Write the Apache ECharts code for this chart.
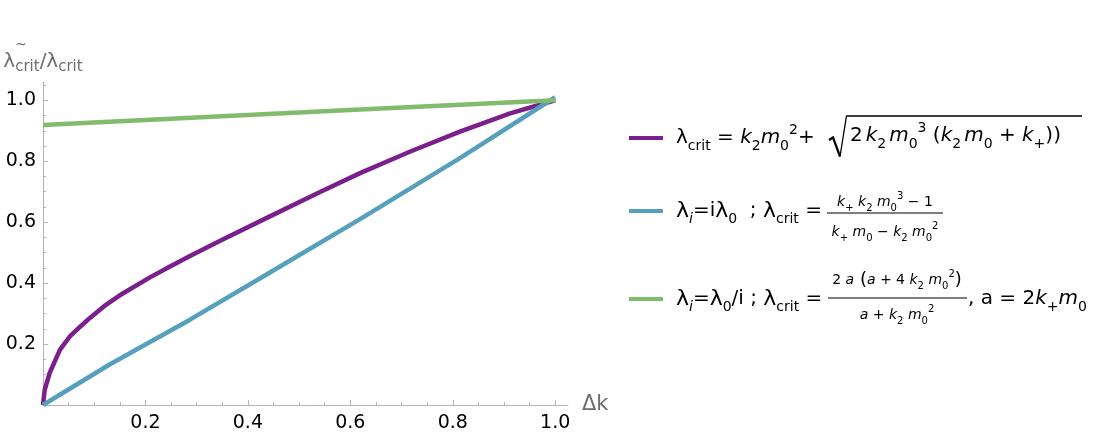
<!DOCTYPE html>
<html>
<head>
<meta charset="utf-8">
<script src="https://cdn.jsdelivr.net/npm/echarts@6/dist/echarts.min.js"></script>
<style>
  html, body { margin: 0; padding: 0; background: #fff; }
  #chart { width: 1101px; height: 444px; }
</style>
</head>
<body>
<div id="chart"></div>
<script>
// values
const critX = [0, 0.0033, 0.013, 0.033, 0.052, 0.072, 0.091, 0.12, 0.15, 0.208, 0.247, 0.287, 0.345, 0.443, 0.54, 0.619, 0.716, 0.814, 0.912, 1.0]
const critY = [0, 0.05, 0.105, 0.181, 0.224, 0.256, 0.285, 0.325, 0.36, 0.418, 0.454, 0.489, 0.538, 0.619, 0.698, 0.761, 0.831, 0.897, 0.957, 1.0]
const linX = [0, 0.13, 0.287, 0.443, 0.619, 0.814, 1.0]
const linY = [0, 0.133, 0.28, 0.435, 0.61, 0.81, 1.01]
const invX = [0, 0.619, 1.0]
const invY = [0.919, 0.97, 1.0]
const majorTicks = [0, 0.2, 0.4, 0.6, 0.8, 1.0]
const tickLabels = [0.2, 0.4, 0.6, 0.8, 1.0]
const minorTicks = [0.05, 0.1, 0.15, 0.25, 0.3, 0.35, 0.45, 0.5, 0.55, 0.65, 0.7, 0.75, 0.85, 0.9, 0.95, 1.05]

const FONT = '"DejaVu Sans", "Liberation Sans", sans-serif'
const AXIS_GREY = '#b3b3b3'
const NAME_GREY = '#6e6e6e'
const colors = ['#7a1f8b', '#56a0be', '#81bb6c']

const pairs = (xs, ys) => xs.map((x, i) => [x, ys[i]])

// rich styles for the formulas
const base = { fontFamily: FONT, color: '#000' }
const rich = {
  n: { ...base, fontSize: 20, lineHeight: 30 },
  it: { ...base, fontSize: 20, lineHeight: 30, fontStyle: 'italic' },
  L: { ...base, fontSize: 22, lineHeight: 30 },
  sub: { ...base, fontSize: 14, lineHeight: 20, verticalAlign: 'bottom' },
  isub: { ...base, fontSize: 14, lineHeight: 20, verticalAlign: 'bottom', fontStyle: 'italic' },
  sup: { ...base, fontSize: 14, lineHeight: 16, verticalAlign: 'top' },
  ts: { ...base, fontSize: 20, lineHeight: 30, width: 3 },
  sp: { ...base, fontSize: 20, lineHeight: 30, width: 8 },
  f: { ...base, fontSize: 14, lineHeight: 22 },
  fi: { ...base, fontSize: 14, lineHeight: 22, fontStyle: 'italic' },
  fp: { ...base, fontSize: 18, lineHeight: 22 },
  fsub: { ...base, fontSize: 10, lineHeight: 15, verticalAlign: 'bottom' },
  fsup: { ...base, fontSize: 10, lineHeight: 10, verticalAlign: 'top' }
}

const labels = {
  crit: '{sp| }{n|λ}{sub|crit}{n| = }{it|k}{sub|2}{it|m}{sub|0}{sup|2}{n|+}',
  lin: '{sp| }{L|λ}{isub|i}{n|=i}{L|λ}{sub|0}{n|  ; }{L|λ}{sub|crit}{n| =}',
  inv: '{sp| }{L|λ}{isub|i}{n|=}{L|λ}{sub|0}{n|/i ; }{L|λ}{sub|crit}{n| =}'
}

const legendAt = (name, top) => ({
  data: [name],
  left: 629,
  top: top,
  padding: 0,
  icon: 'rect',
  itemWidth: 34,
  itemHeight: 4,
  selectedMode: false,
  formatter: n => labels[n],
  textStyle: { rich: rich }
})

const richText = (text, x, y, align) => ({
  type: 'text',
  style: { text: text, rich: rich, x: x, y: y, align: align || 'center', verticalAlign: 'middle' }
})
const hLine = (x1, x2, y, w) => ({
  type: 'line',
  shape: { x1: x1, y1: y, x2: x2, y2: y },
  style: { stroke: '#000', lineWidth: w || 1.2 }
})

const chart = echarts.init(document.getElementById('chart'))
chart.setOption({
  animation: false,
  backgroundColor: '#fff',
  grid: { left: 43, right: 533, top: 82, bottom: 39, outerBoundsMode: 'none' },
  legend: [legendAt('crit', 123), legendAt('lin', 200), legendAt('inv', 288)],
  xAxis: [{
    type: 'value', min: 0, max: 1.025, position: 'bottom',
    name: 'Δk', nameLocation: 'end', nameGap: 14,
    nameTextStyle: { fontFamily: FONT, fontSize: 21, color: NAME_GREY, verticalAlign: 'middle' },
    axisLine: { lineStyle: { color: AXIS_GREY, width: 1 } },
    axisTick: { inside: true, length: 5, customValues: majorTicks, lineStyle: { color: AXIS_GREY } },
    axisLabel: { customValues: tickLabels, formatter: v => v.toFixed(1), fontFamily: FONT, fontSize: 19, color: '#000', margin: 9 },
    splitLine: { show: false }
  }, {
    type: 'value', min: 0, max: 1.025, position: 'bottom',
    axisLine: { show: false },
    axisTick: { inside: true, length: 3, customValues: minorTicks, lineStyle: { color: AXIS_GREY } },
    axisLabel: { show: false },
    splitLine: { show: false }
  }],
  yAxis: [{
    type: 'value', min: 0, max: 1.06, position: 'left',
    name: '{n|λ}{s|crit}{n|/λ}{s|crit}', nameLocation: 'end', nameGap: 7,
    nameTextStyle: {
      rich: {
        n: { fontFamily: FONT, fontSize: 20, color: NAME_GREY, lineHeight: 26 },
        s: { fontFamily: FONT, fontSize: 15, color: NAME_GREY, lineHeight: 18, verticalAlign: 'bottom' }
      }
    },
    axisLine: { lineStyle: { color: AXIS_GREY, width: 1 } },
    axisTick: { inside: true, length: 5, customValues: majorTicks, lineStyle: { color: AXIS_GREY } },
    axisLabel: { customValues: tickLabels, formatter: v => v.toFixed(1), fontFamily: FONT, fontSize: 19, color: '#000', margin: 7 },
    splitLine: { show: false }
  }, {
    type: 'value', min: 0, max: 1.06, position: 'left',
    axisLine: { show: false },
    axisTick: { inside: true, length: 3, customValues: minorTicks, lineStyle: { color: AXIS_GREY } },
    axisLabel: { show: false },
    splitLine: { show: false }
  }],
  graphic: [
    { type: 'text', style: { text: '~', x: 21, y: 45, align: 'center', verticalAlign: 'middle', fontFamily: FONT, fontSize: 14, fill: NAME_GREY } },
    // square root of the first item
    { type: 'polyline', shape: { points: [[829, 140], [833, 137.5], [840, 156.5]] }, style: { stroke: '#000', lineWidth: 2.2, fill: null } },
    { type: 'polyline', shape: { points: [[840, 156.5], [846.5, 116], [1082, 116]] }, style: { stroke: '#000', lineWidth: 1.3, fill: null } },
    richText('{n|2}{ts| }{it|k}{sub|2}{ts| }{it|m}{sub|0}{sup|3}{n| }{n|(}{it|k}{sub|2}{ts| }{it|m}{sub|0}{n| + }{it|k}{sub|+}{n|))}', 850, 136, 'left'),
    // fraction of the second item
    richText('{fi|k}{fsub|+}{f| }{fi|k}{fsub|2}{f| }{fi|m}{fsub|0}{fsup|3}{f| − 1}', 885, 202),
    hLine(827, 943, 213),
    richText('{fi|k}{fsub|+}{f| }{fi|m}{fsub|0}{f| − }{fi|k}{fsub|2}{f| }{fi|m}{fsub|0}{fsup|2}', 885, 232),
    // fraction of the third item
    richText('{f|2 }{fi|a}{fp| (}{fi|a}{f| + 4 }{fi|k}{fsub|2}{f| }{fi|m}{fsub|0}{fsup|2}{fp|)}', 897, 280),
    hLine(828, 967, 298),
    richText('{fi|a}{f| + }{fi|k}{fsub|2}{f| }{fi|m}{fsub|0}{fsup|2}', 897, 315),
    richText('{n|, a = 2}{it|k}{sub|+}{it|m}{sub|0}', 968, 299, 'left')
  ],
  series: [{
    name: 'crit', type: 'line', data: pairs(critX, critY),
    showSymbol: false,
    lineStyle: { color: colors[0], width: 4.5, join: 'round' }, itemStyle: { color: colors[0] }
  }, {
    name: 'lin', type: 'line', data: pairs(linX, linY),
    showSymbol: false,
    lineStyle: { color: colors[1], width: 4.5, join: 'round' }, itemStyle: { color: colors[1] }
  }, {
    name: 'inv', type: 'line', data: pairs(invX, invY),
    showSymbol: false,
    lineStyle: { color: colors[2], width: 4.5 }, itemStyle: { color: colors[2] }
  }]
})
</script>
</body>
</html>
